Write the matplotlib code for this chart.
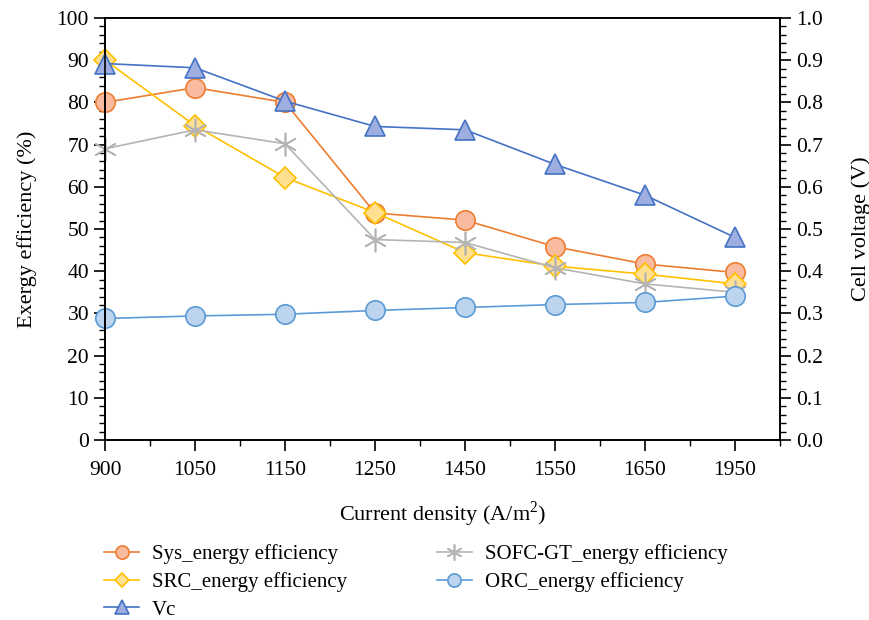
import matplotlib
matplotlib.use('Agg')
import matplotlib.pyplot as plt
from matplotlib.ticker import MultipleLocator

plt.rcParams['font.family'] = ['Liberation Serif', 'DejaVu Serif']
plt.rcParams['mathtext.fontset'] = 'custom'
plt.rcParams['mathtext.rm'] = 'Liberation Serif'
plt.rcParams['font.size'] = 15

# data
densities = ['900', '1050', '1150', '1250', '1450', '1550', '1650', '1950']
sys_eff = [80.0, 83.5, 80.0, 53.8, 52.1, 45.8, 41.7, 39.7]
src_eff = [90.0, 74.5, 62.2, 53.9, 44.4, 41.2, 39.3, 37.0]
sofc_eff = [69.0, 73.5, 70.2, 47.5, 46.8, 40.8, 37.0, 35.0]
orc_eff = [28.8, 29.4, 29.8, 30.7, 31.4, 32.1, 32.6, 34.1]
vc = [0.892, 0.882, 0.803, 0.743, 0.735, 0.653, 0.580, 0.480]

x = list(range(len(densities)))

fig = plt.figure(figsize=(8.7, 6.2), dpi=100)
ax = fig.add_axes([0.1207, 0.2903, 0.7759, 0.6807])
ax2 = ax.twinx()

l1, = ax.plot(x, sys_eff, color='#ED7D31', lw=1.2, marker='o', ms=14,
              mfc='#F8BBA0', mec='#ED7D31', mew=1.2, label='Sys_energy efficiency',
              clip_on=False)
l2, = ax.plot(x, src_eff, color='#FFC000', lw=1.2, marker='D', ms=11,
              mfc='#FFDF90', mec='#FFC000', mew=1.2, label='SRC_energy efficiency',
              clip_on=False)
l4, = ax.plot(x, sofc_eff, color='#B4B4B4', lw=1.2, marker=(6, 2, 0), ms=17,
              mec='#B4B4B4', mew=1.2, label='SOFC-GT_energy efficiency',
              clip_on=False)
l5, = ax.plot(x, orc_eff, color='#5B9BD5', lw=1.2, marker='o', ms=14,
              mfc='#BDD4EE', mec='#5B9BD5', mew=1.2, label='ORC_energy efficiency',
              clip_on=False)
l3, = ax2.plot(x, vc, color='#4472C4', lw=1.2, marker='^', ms=15,
               mfc='#9EAEE0', mec='#4472C4', mew=1.2, label='Vc',
               clip_on=False)

ax.set_xlim(0, 7.5)
ax.set_ylim(0, 100)
ax2.set_ylim(0, 1.0)
ax.set_xticks(x)
ax.set_xticklabels(densities)
ax.xaxis.set_minor_locator(MultipleLocator(0.5))
ax.yaxis.set_major_locator(MultipleLocator(10))
ax.yaxis.set_minor_locator(MultipleLocator(2))
ax2.yaxis.set_major_locator(MultipleLocator(0.1))
ax2.yaxis.set_minor_locator(MultipleLocator(0.02))
ax2.set_yticklabels(['%.1f' % v for v in ax2.get_yticks()])

for a in (ax, ax2):
    a.tick_params(which='major', direction='out', length=8, width=1.2, labelsize=15.5)
    a.tick_params(which='minor', direction='out', length=4, width=1.0)
    for s in a.spines.values():
        s.set_linewidth(1.2)
ax.tick_params(axis='x', pad=7)

ax.set_xlabel('Current density (A/m$^2$)', fontsize=16, labelpad=14)
ax.set_ylabel('Exergy efficiency (%)', fontsize=16, labelpad=14)
ax2.set_ylabel('Cell voltage (V)', fontsize=16, labelpad=20)

fig.legend(handles=[l1, l2, l3, l4, l5], ncol=2, frameon=False,
           loc='upper left', bbox_to_anchor=(0.098, 0.152), fontsize=15,
           markerscale=0.68, handlelength=1.7, handletextpad=0.6,
           columnspacing=4.3, labelspacing=0.38)

fig.savefig('out.png', dpi=100)
